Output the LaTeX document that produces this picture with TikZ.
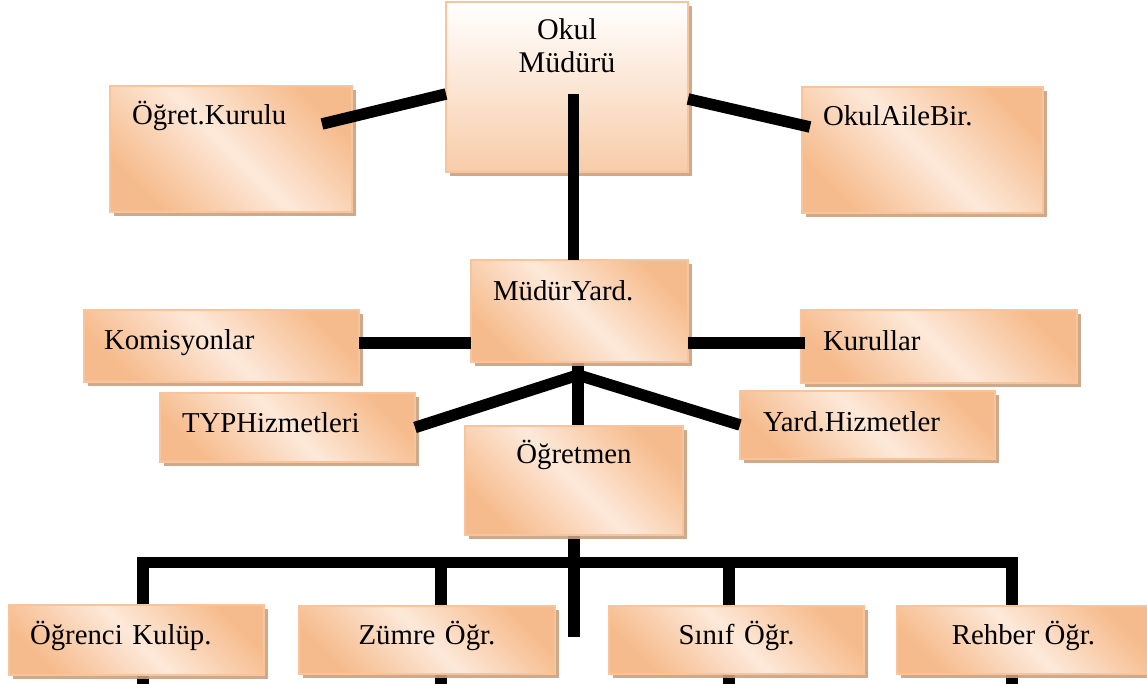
\documentclass[tikz,border=0pt]{standalone}
\usepackage{fontspec}
\setmainfont{Liberation Serif}
\usepackage{xcolor}
\usepackage{tikz}
\usetikzlibrary{positioning, shadows, backgrounds}

\definecolor{boxorange}{RGB}{246,187,140}
\definecolor{boxlight}{RGB}{253,233,218}
\definecolor{boxedge}{RGB}{248,196,155}
\definecolor{boxshadow}{RGB}{201,160,127}
\definecolor{headbottom}{RGB}{247,204,168}

\begin{document}
\begin{tikzpicture}[
        x=1pt, y=-1pt,
        block/.style={rectangle, draw=boxedge, line width=2.5pt, outer sep=0pt, inner ysep=0pt,
            top color=boxorange, bottom color=boxorange, middle color=boxlight, shading angle=-45,
            drop shadow={shadow xshift=4pt, shadow yshift=-4pt, fill=boxshadow, opacity=0.9},
            anchor=north west, align=left, font=\fontsize{28.8}{34}\selectfont},
        headblock/.style={block, top color=white, bottom color=headbottom, shading angle=0,
            align=center, font=\fontsize{30}{33}\selectfont},
        link/.style={line width=11.5pt, black}
    ]
        \useasboundingbox (0,0) rectangle (1147,684);

        % ===== 上层 =====
        \node (okul) [headblock, text width=222pt, inner xsep=10pt, text height=38pt, text depth=132pt] at (446,2) {Okul\\Müdürü};
        \node (ogret) [block, text width=198pt, inner xsep=22pt, text height=39pt, text depth=87pt] at (110,86) {Öğret.Kurulu};
        \node (aile) [block, text width=199pt, inner xsep=21pt, text height=39pt, text depth=87pt] at (802,87) {OkulAileBir.};

        % ===== 中层 =====
        \node (myard) [block, text width=173pt, inner xsep=22pt, text height=40pt, text depth=62pt] at (471,260) {MüdürYard.};
        \node (komisyon) [block, text width=235pt, inner xsep=20pt, text height=39pt, text depth=33pt] at (84,310) {Komisyonlar};
        \node (kurul) [block, text width=232pt, inner xsep=22pt, text height=40pt, text depth=33pt] at (801,310) {Kurullar};
        \node (typ) [block, text width=211pt, inner xsep=22pt, text height=39pt, text depth=30pt] at (160,393) {TYPHizmetleri};
        \node (yard) [block, text width=209pt, inner xsep=23pt, text height=40pt, text depth=28pt] at (740,391) {Yard.Hizmetler};
        \node (ogretmen) [block, align=center, text width=198pt, inner xsep=10pt, text height=37pt, text depth=72pt] at (465,426) {Öğretmen};

        % ===== 下层 =====
        \node (kulup) [block, text width=213pt, inner xsep=21pt, text height=39pt, text depth=31pt] at (9,605) {Öğrenci Kulüp.};
        \node (zumre) [block, align=center, text width=236pt, inner xsep=10pt, text height=38pt, text depth=30pt, right=35pt of kulup] {Zümre Öğr.};
        \node (sinif) [block, align=center, text width=235pt, inner xsep=10pt, text height=38pt, text depth=30pt, right=54pt of zumre] {Sınıf Öğr.};
        \node (rehber) [block, align=center, text width=233pt, inner xsep=10pt, text height=38pt, text depth=30pt, right=33pt of sinif] {Rehber Öğr.};

        % ===== 连线 =====
        \coordinate (stem) at (573.5,94);
        \coordinate (ogret-end) at (322,124);
        \coordinate (aile-end) at (810,127);
        \coordinate (jn) at (578,375);
        \coordinate (d1) at (143,562.5);
        \coordinate (d2) at (441,562.5);
        \coordinate (d3) at (729,562.5);
        \coordinate (d4) at (1012,562.5);
        \coordinate (mid) at (574,637);
        \coordinate (low) at (0,690);

        % 框后面的线
        \begin{scope}[on background layer]
            \draw [link] (jn |- myard.south) -- (jn |- ogretmen.north);
            \draw [link] (ogretmen.south) -- (mid);
            \draw [link, line join=miter] (d1 |- low) -- (d1) -- (d4) -- (d4 |- low);
            \draw [link] (d2) -- (d2 |- low);
            \draw [link] (d3) -- (d3 |- low);
        \end{scope}

        % 上层连线
        \draw [link] (stem) -- (stem |- myard.north);
        \draw [link] (ogret-end) -- (okul.west |- stem);
        \draw [link] ([yshift=-12pt]okul.east) -- (aile-end);

        % 中层连线
        \draw [link] ([yshift=3pt]komisyon.east) -- ([yshift=3pt]komisyon.east -| myard.west);
        \draw [link] ([yshift=3.5pt]myard.east |- kurul.west) -- ([xshift=4pt, yshift=3.5pt]kurul.west);
        \draw [link] (typ.east) -- (jn) -- (yard.west);

    \end{tikzpicture}
\end{document}
